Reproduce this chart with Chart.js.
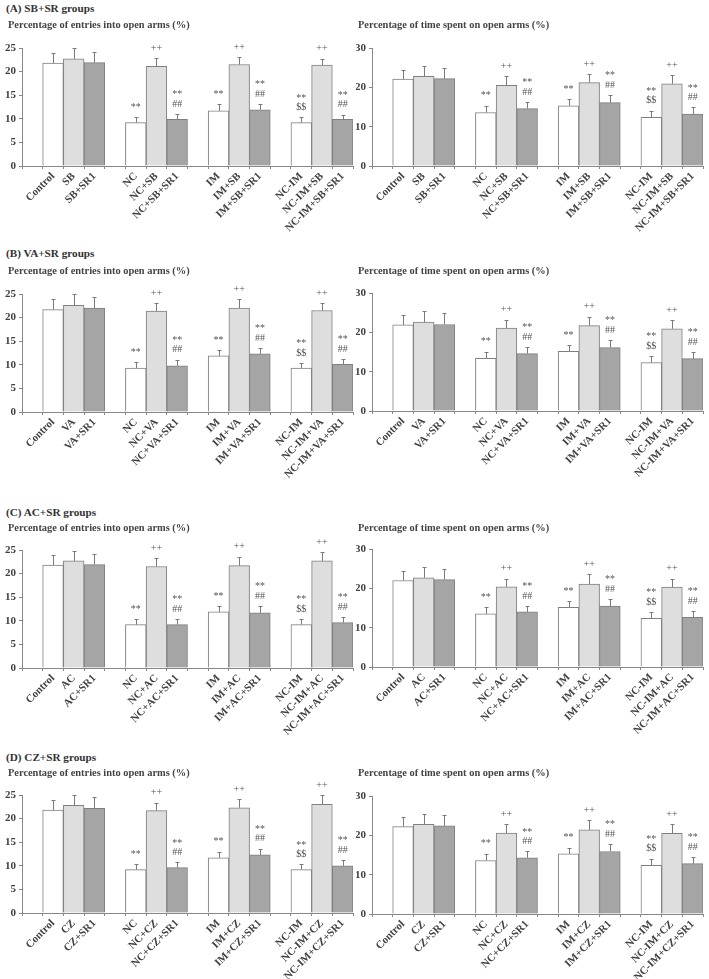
<!DOCTYPE html>
<html>
<head>
<meta charset="utf-8">
<script src="https://cdn.jsdelivr.net/npm/chart.js@4.4.1/dist/chart.umd.min.js"></script>
<style>
  body { margin: 0; background: #fff; width: 709px; height: 979px; position: relative; overflow: hidden; }
  .t { position: absolute; font-family: "Liberation Serif", serif; font-weight: bold; white-space: nowrap; }
  .panel { font-size: 11.2px; color: #333; }
  .sub { font-size: 10.4px; color: #444; }
  canvas { position: absolute; }
</style>
</head>
<body>
<div id="root"></div>
<script>
// panel names and drug codes
const drugs = ['SB', 'VA', 'AC', 'CZ'];
const panelTitles = ['(A) SB+SR groups', '(B) VA+SR groups', '(C) AC+SR groups', '(D) CZ+SR groups'];
const entriesTitle = 'Percentage of entries into open arms (%)';
const timeTitle = 'Percentage of time spent on open arms (%)';

// values (12 bars each), err = upper error bar length
const sbEntries    = [21.8, 22.7, 21.9, 9.2, 21.1, 9.9, 11.7, 21.5, 11.9, 9.2, 21.4, 9.9];
const sbEntriesErr = [2.1, 2.3, 2.2, 1.2, 1.8, 1.1, 1.4, 1.6, 1.2, 1.1, 1.3, 1.0];
const sbTime       = [22.1, 22.8, 22.2, 13.6, 20.5, 14.6, 15.3, 21.2, 16.1, 12.4, 20.9, 13.2];
const sbTimeErr    = [2.4, 2.7, 2.7, 1.7, 2.3, 1.7, 1.7, 2.2, 1.9, 1.7, 2.2, 1.7];

const vaEntries    = [21.7, 22.6, 22.0, 9.3, 21.4, 9.8, 11.9, 22.0, 12.3, 9.3, 21.5, 10.1];
const vaEntriesErr = [2.2, 2.3, 2.4, 1.2, 1.7, 1.3, 1.2, 1.9, 1.2, 1.1, 1.5, 1.1];
const vaTime       = [21.9, 22.6, 22.0, 13.4, 21.1, 14.6, 15.2, 21.7, 16.1, 12.3, 20.9, 13.3];
const vaTimeErr    = [2.5, 2.7, 2.8, 1.7, 2.1, 1.6, 1.5, 2.3, 1.9, 1.6, 2.2, 1.7];

const acEntries    = [21.8, 22.7, 21.9, 9.2, 21.5, 9.2, 11.9, 21.7, 11.7, 9.2, 22.7, 9.6];
const acEntriesErr = [2.1, 2.1, 2.2, 1.2, 1.7, 1.2, 1.2, 1.9, 1.4, 1.2, 1.8, 1.2];
const acTime       = [22.0, 22.7, 22.2, 13.5, 20.4, 14.0, 15.2, 21.1, 15.5, 12.4, 20.3, 12.6];
const acTimeErr    = [2.5, 2.7, 2.7, 1.7, 2.1, 1.5, 1.5, 2.5, 1.8, 1.5, 2.2, 1.6];

const czEntries    = [21.8, 22.8, 22.2, 9.2, 21.7, 9.6, 11.7, 22.3, 12.3, 9.2, 23.0, 10.0];
const czEntriesErr = [2.1, 2.1, 2.3, 1.2, 1.7, 1.1, 1.3, 1.8, 1.3, 1.1, 1.9, 1.2];
const czTime       = [22.2, 22.8, 22.4, 13.6, 20.6, 14.3, 15.3, 21.4, 15.9, 12.4, 20.5, 12.8];
const czTimeErr    = [2.4, 2.7, 2.8, 1.7, 2.2, 1.6, 1.6, 2.5, 1.9, 1.7, 2.3, 1.6];

// significance marks above each bar (same in every chart)
const marks = [[], [], [], ['**'], ['++'], ['**', '##'], ['**'], ['++'], ['**', '##'], ['**', '$$'], ['++'], ['**', '##']];

const entriesTicks = [0, 5, 10, 15, 20, 25];
const timeTicks = [0, 10, 20, 30];

const barColors = ['#ffffff', '#dedede', '#a5a5a5'];
const FONT = '"Liberation Serif", "Times New Roman", serif';
const TOP_PAD = 22;

function makeLabels(d) {
    const base = ['Control', 'NC', 'IM', 'NC-IM'];
    const out = [];
    base.forEach((b, i) => {
        out.push('');
        if (i === 0) out.push('Control', d, d + '+SR1');
        else out.push(b, b + '+' + d, b + '+' + d + '+SR1');
    });
    return out;
}

// put an empty slot before each group of three
function pad(arr) {
    const out = [];
    arr.forEach((v, i) => {
        if (i % 3 === 0) out.push(null);
        out.push(v);
    });
    return out;
}

// draws upper error bars and the ** / ++ / ## / $$ marks
const errorBars = {
    id: 'errorBars',
    afterDatasetsDraw(chart, args, opts) {
        const ctx = chart.ctx;
        const y = chart.scales.y;
        const meta = chart.getDatasetMeta(0);
        const vals = chart.data.datasets[0].data;
        const errs = opts.errs;
        ctx.save();
        meta.data.forEach((bar, i) => {
            const v = vals[i];
            if (v === null) return;
            const k = i - Math.floor(i / 4) - 1;
            const top = y.getPixelForValue(v + errs[k]);
            const x = Math.round(bar.x) + 0.5;
            ctx.strokeStyle = '#7a7a7a';
            ctx.lineWidth = 1;
            ctx.beginPath();
            ctx.moveTo(x, bar.y);
            ctx.lineTo(x, Math.round(top) + 0.5);
            ctx.moveTo(x - 2, Math.round(top) + 0.5);
            ctx.lineTo(x + 2, Math.round(top) + 0.5);
            ctx.stroke();

            const m = marks[k];
            ctx.fillStyle = '#555';
            ctx.font = '10px ' + FONT;
            ctx.textAlign = 'center';
            ctx.textBaseline = 'middle';
            for (let j = 0; j < m.length; j++) {
                const line = m[m.length - 1 - j];
                ctx.fillText(line, bar.x, top - 10 - j * 9.5);
            }
        });
        ctx.restore();
    }
};

function drawChart(opts) {
    const cv = document.createElement('canvas');
    cv.width = opts.w;
    cv.height = TOP_PAD + 118 + 72;
    cv.style.left = opts.left + 'px';
    cv.style.top = (opts.plotTop - TOP_PAD) + 'px';
    document.body.appendChild(cv);

    const ticks = opts.ticks;
    new Chart(cv.getContext('2d'), {
        type: 'bar',
        data: {
            labels: makeLabels(opts.drug),
            datasets: [{
                data: pad(opts.values),
                backgroundColor: pad(opts.values).map((v, i) => barColors[(i - Math.floor(i / 4) - 1) % 3] || '#fff'),
                borderColor: '#7f7f7f',
                borderWidth: 1,
                barPercentage: 1,
                categoryPercentage: 1
            }]
        },
        options: {
            responsive: false,
            animation: false,
            devicePixelRatio: 1,
            layout: { padding: { top: TOP_PAD, right: opts.padRight, left: 0, bottom: 0 } },
            plugins: {
                legend: { display: false },
                tooltip: { enabled: false },
                errorBars: { errs: opts.errs }
            },
            scales: {
                x: {
                    afterFit(s) { s.height = 72; },
                    grid: { drawOnChartArea: false, offset: true, tickLength: 3, color: '#888' },
                    border: { color: '#888' },
                    ticks: {
                        autoSkip: false,
                        minRotation: 45,
                        maxRotation: 45,
                        padding: 1,
                        color: '#404040',
                        font: { family: FONT, size: 10.8, weight: 'bold' }
                    }
                },
                y: {
                    min: 0,
                    max: ticks[ticks.length - 1],
                    afterFit(s) { s.width = opts.axisW; },
                    afterBuildTicks(s) { s.ticks = ticks.map(v => ({ value: v })); },
                    grid: { drawOnChartArea: false, tickLength: 3, color: '#888' },
                    border: { color: '#888' },
                    ticks: {
                        padding: 3,
                        color: '#404040',
                        font: { family: FONT, size: 11, weight: 'bold' }
                    }
                }
            }
        },
        plugins: [errorBars]
    });
}

function addText(cls, txt, x, yc) {
    const d = document.createElement('div');
    d.className = 't ' + cls;
    d.textContent = txt;
    d.style.left = x + 'px';
    d.style.top = (yc - 8) + 'px';
    d.style.lineHeight = '16px';
    document.body.appendChild(d);
}

const entriesData = [sbEntries, vaEntries, acEntries, czEntries];
const entriesErrs = [sbEntriesErr, vaEntriesErr, acEntriesErr, czEntriesErr];
const timeData = [sbTime, vaTime, acTime, czTime];
const timeErrs = [sbTimeErr, vaTimeErr, acTimeErr, czTimeErr];

const titleY = [8, 253, 512, 757];
const subY = [25, 271, 528, 773];
const plotTopL = [48, 294, 550, 795];
const plotTopR = [48, 293, 549, 796];

drugs.forEach((d, r) => {
    drawChart({ drug: d, values: entriesData[r], errs: entriesErrs[r], ticks: entriesTicks,
        left: 0, w: 356, axisW: 22, padRight: 3, plotTop: plotTopL[r] });
    drawChart({ drug: d, values: timeData[r], errs: timeErrs[r], ticks: timeTicks,
        left: 356, w: 353, axisW: 16, padRight: 6, plotTop: plotTopR[r] });
    addText('panel', panelTitles[r], 6, titleY[r]);
    addText('sub', entriesTitle, 8, subY[r]);
    addText('sub', timeTitle, 358, subY[r]);
});
</script>
</body>
</html>
